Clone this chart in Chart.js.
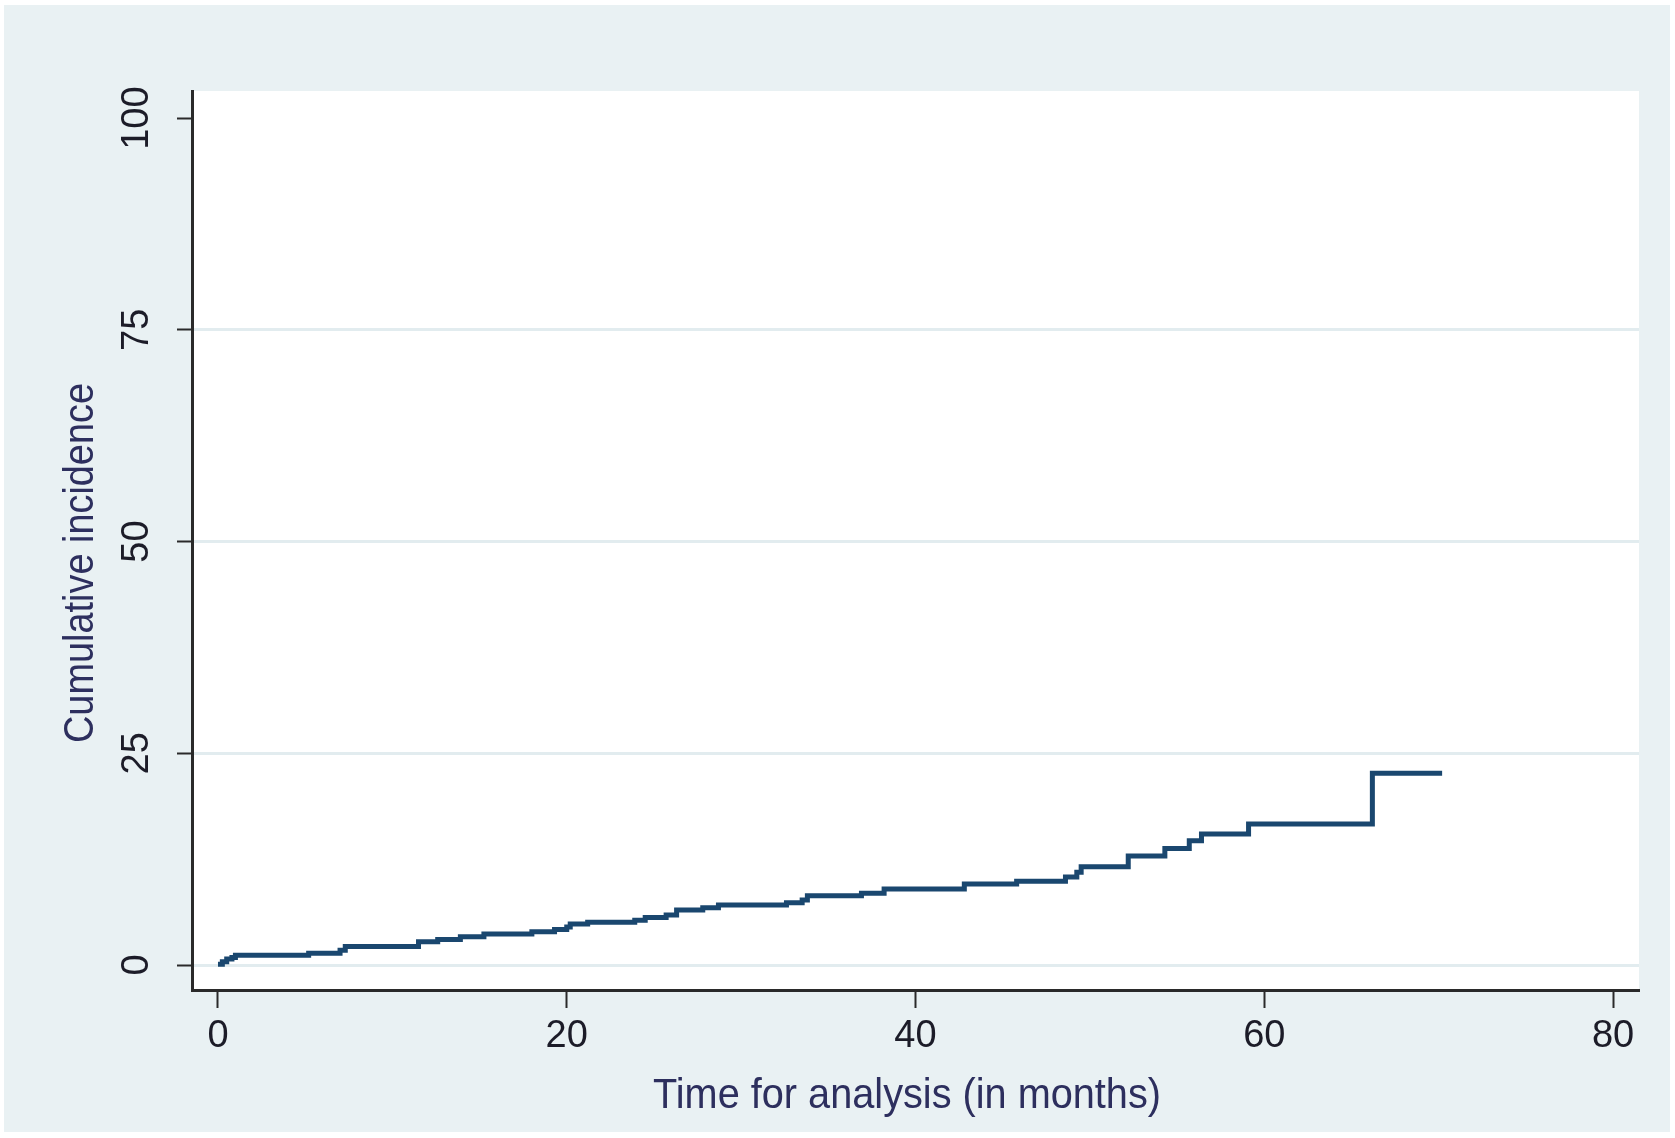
<!DOCTYPE html>
<html>
<head>
<meta charset="utf-8">
<script src="https://cdn.jsdelivr.net/npm/chart.js@4"></script>
<style>
  html, body { margin: 0; padding: 0; background: #ffffff; }
  #wrap { width: 1675px; height: 1138px; position: relative; }
</style>
</head>
<body>
<div id="wrap"><canvas id="c" width="1675" height="1138"></canvas></div>
<script>
// ---- data (step function, value jumps at each time) ----
const months = [0, 0.25, 0.5, 0.8, 1.0, 5.2, 7.0, 7.3, 11.5, 12.6, 13.9, 15.25, 18.0, 19.3, 20.0, 20.2, 21.2,
                23.9, 24.5, 25.7, 26.3, 27.8, 28.7, 32.6, 33.5, 33.8, 36.9, 38.2, 42.8, 45.8, 48.6, 49.25,
                49.5, 52.2, 54.3, 55.7, 56.4, 59.1, 66.2, 70.2];
const incidence = [0.1, 0.4, 0.7, 0.9, 1.15, 1.4, 1.75, 2.2, 2.75, 3.0, 3.35, 3.66, 3.93, 4.2, 4.5, 4.84, 5.04,
                   5.3, 5.62, 5.9, 6.5, 6.77, 7.08, 7.36, 7.67, 8.18, 8.46, 8.97, 9.56, 9.9, 10.4, 10.95,
                   11.6, 12.87, 13.77, 14.67, 15.47, 16.65, 22.63, 22.63];
const xTickValues = [0, 20, 40, 60, 80];
const yTickValues = [0, 25, 50, 75, 100];
const xTitle = 'Time for analysis (in months)';
const yTitle = 'Cumulative incidence';

const points = months.map((m, i) => ({ x: m, y: incidence[i] }));

const BG = '#e9f1f3';
const TITLE_COLOR = '#2d2f5e';
const TICK_COLOR = '#1c1c28';
const AXIS_COLOR = '#2a2a2a';

const backgroundPlugin = {
  id: 'bg',
  beforeDraw(chart) {
    const ctx = chart.ctx;
    const a = chart.chartArea;
    ctx.save();
    ctx.fillStyle = '#ffffff';
    ctx.fillRect(0, 0, chart.width, chart.height);
    ctx.fillStyle = BG;
    ctx.fillRect(4, 5, 1666, 1127);
    ctx.fillStyle = '#ffffff';
    ctx.fillRect(a.left, a.top, a.right - a.left, a.bottom - a.top);
    ctx.restore();
  }
};

const titlePlugin = {
  id: 'axisTitles',
  afterDraw(chart) {
    const ctx = chart.ctx;
    ctx.save();
    ctx.fillStyle = TITLE_COLOR;
    ctx.font = '42px "Liberation Sans", Arial, sans-serif';
    ctx.textAlign = 'center';
    ctx.textBaseline = 'alphabetic';
    // x title
    let w = ctx.measureText(xTitle).width;
    ctx.save();
    ctx.translate(907, 1108);
    ctx.scale(508 / w, 1);
    ctx.fillText(xTitle, 0, 0);
    ctx.restore();
    // y title
    w = ctx.measureText(yTitle).width;
    ctx.save();
    ctx.translate(93, 563);
    ctx.rotate(-Math.PI / 2);
    ctx.scale(360 / w, 1);
    ctx.fillText(yTitle, 0, 0);
    ctx.restore();
    ctx.restore();
  }
};

new Chart(document.getElementById('c'), {
  type: 'line',
  data: {
    datasets: [{
      data: points,
      stepped: 'before',
      borderColor: '#1a476f',
      borderWidth: 5,
      pointRadius: 0,
      fill: false,
      borderCapStyle: 'butt',
      borderJoinStyle: 'miter'
    }]
  },
  options: {
    responsive: false,
    animation: false,
    devicePixelRatio: 1,
    layout: { padding: { left: 0, top: 91, right: 36, bottom: 0 } },
    plugins: { legend: { display: false }, tooltip: { enabled: false } },
    scales: {
      x: {
        type: 'linear',
        min: -1.49,
        max: 81.49,
        afterBuildTicks(scale) { scale.ticks = xTickValues.map(v => ({ value: v })); },
        afterFit(scale) { scale.height = 148; scale.paddingLeft = 0; scale.paddingRight = 0; },
        grid: { drawOnChartArea: false, drawTicks: true, tickLength: 18, tickColor: AXIS_COLOR, tickWidth: 2 },
        border: { display: true, color: AXIS_COLOR, width: 3 },
        ticks: {
          color: TICK_COLOR,
          font: { family: '"Liberation Sans", Arial, sans-serif', size: 38 },
          padding: 6,
          maxRotation: 0,
          minRotation: 0,
          callback: v => String(v)
        }
      },
      y: {
        type: 'linear',
        min: -2.95,
        max: 103.2,
        afterBuildTicks(scale) { scale.ticks = yTickValues.map(v => ({ value: v })); },
        afterFit(scale) { scale.width = 192; scale.paddingTop = 0; scale.paddingBottom = 0; },
        grid: {
          drawOnChartArea: true,
          color: ctx => (ctx.tick && ctx.tick.value === 100) ? 'rgba(0,0,0,0)' : '#e2ecef',
          lineWidth: 3,
          drawTicks: true,
          tickLength: 15,
          tickColor: AXIS_COLOR,
          tickWidth: 2
        },
        border: { display: true, color: AXIS_COLOR, width: 3 },
        ticks: {
          color: TICK_COLOR,
          font: { family: '"Liberation Sans", Arial, sans-serif', size: 38 },
          padding: 8,
          minRotation: 90,
          maxRotation: 90,
          crossAlign: 'center',
          callback: v => String(v)
        }
      }
    }
  },
  plugins: [backgroundPlugin, titlePlugin]
});
</script>
</body>
</html>
